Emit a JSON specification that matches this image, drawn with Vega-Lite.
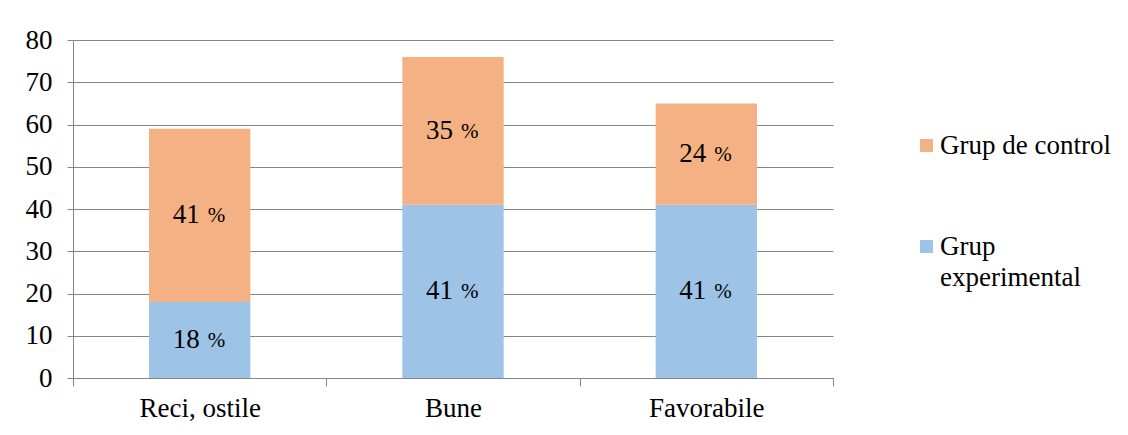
{
  "$schema": "https://vega.github.io/schema/vega-lite/v6.json",
  "autosize": "none",
  "width": 760,
  "height": 338,
  "padding": {"left": 73, "top": 40, "right": 295, "bottom": 57},
  "background": "white",
  "config": {
    "font": "Liberation Serif",
    "view": {"stroke": null},
    "style": {"guide-label": {"lineHeight": 31}},
    "axis": {"labelFont": "Liberation Serif", "labelColor": "black", "domainColor": "#868686", "tickColor": "#868686", "gridColor": "#868686", "title": null}
  },
  "data": {
    "values": [
      {"category": "Reci, ostile", "group": "Grup experimental", "value": 18},
      {"category": "Reci, ostile", "group": "Grup de control", "value": 41},
      {"category": "Bune", "group": "Grup experimental", "value": 41},
      {"category": "Bune", "group": "Grup de control", "value": 35},
      {"category": "Favorabile", "group": "Grup experimental", "value": 41},
      {"category": "Favorabile", "group": "Grup de control", "value": 24}
    ]
  },
  "encoding": {
    "x": {
      "field": "category", "type": "nominal", "sort": ["Reci, ostile", "Bune", "Favorabile"],
      "scale": {"paddingInner": 0, "paddingOuter": 0},
      "axis": {"labelAngle": 0, "labelFontSize": 27, "tickBand": "extent", "tickSize": 8, "labelPadding": 9, "grid": false}
    }
  },
  "layer": [
    {
      "mark": {"type": "bar", "width": {"band": 0.4}},
      "encoding": {
        "y": {
          "field": "value", "type": "quantitative", "stack": "zero",
          "scale": {"domain": [0, 80]},
          "axis": {"values": [0, 10, 20, 30, 40, 50, 60, 70, 80], "labelFontSize": 27, "tickSize": 6, "labelPadding": 15}
        },
        "color": {
          "field": "group", "type": "nominal",
          "scale": {"domain": ["Grup de control", "Grup experimental"], "range": ["#F4B183", "#9DC3E6"]},
          "legend": {
            "title": null, "orient": "none", "legendX": 840, "legendY": 92, "padding": 0,
            "symbolType": "square", "symbolSize": 169, "symbolStrokeWidth": 0,
            "labelFont": "Liberation Serif",
            "labelFontSize": 27, "labelColor": "black", "labelLimit": 300,
            "rowPadding": 73, "labelOffset": 0,
            "labelExpr": "datum.label == 'Grup experimental' ? ['Grup', 'experimental'] : datum.label"
          }
        },
        "order": {"field": "group", "sort": "descending"}
      }
    },
    {
      "transform": [
        {"stack": "value", "groupby": ["category"], "sort": [{"field": "group", "order": "descending"}], "as": ["v0", "v1"]},
        {"fold": ["v0", "v1"], "as": ["k", "pos"]},
        {"aggregate": [{"op": "mean", "field": "pos", "as": "mid"}], "groupby": ["category", "group", "value"]}
      ],
      "layer": [
        {
          "mark": {"type": "text", "font": "Liberation Serif", "align": "right", "baseline": "middle", "dx": 0, "fontSize": 27, "color": "black"},
          "encoding": {"y": {"field": "mid", "type": "quantitative"}, "text": {"field": "value", "type": "quantitative"}}
        },
        {
          "mark": {"type": "text", "font": "Liberation Serif", "align": "left", "baseline": "middle", "dx": 8, "dy": 1, "fontSize": 21, "color": "black", "text": "%"},
          "encoding": {"y": {"field": "mid", "type": "quantitative"}}
        }
      ]
    }
  ]
}
